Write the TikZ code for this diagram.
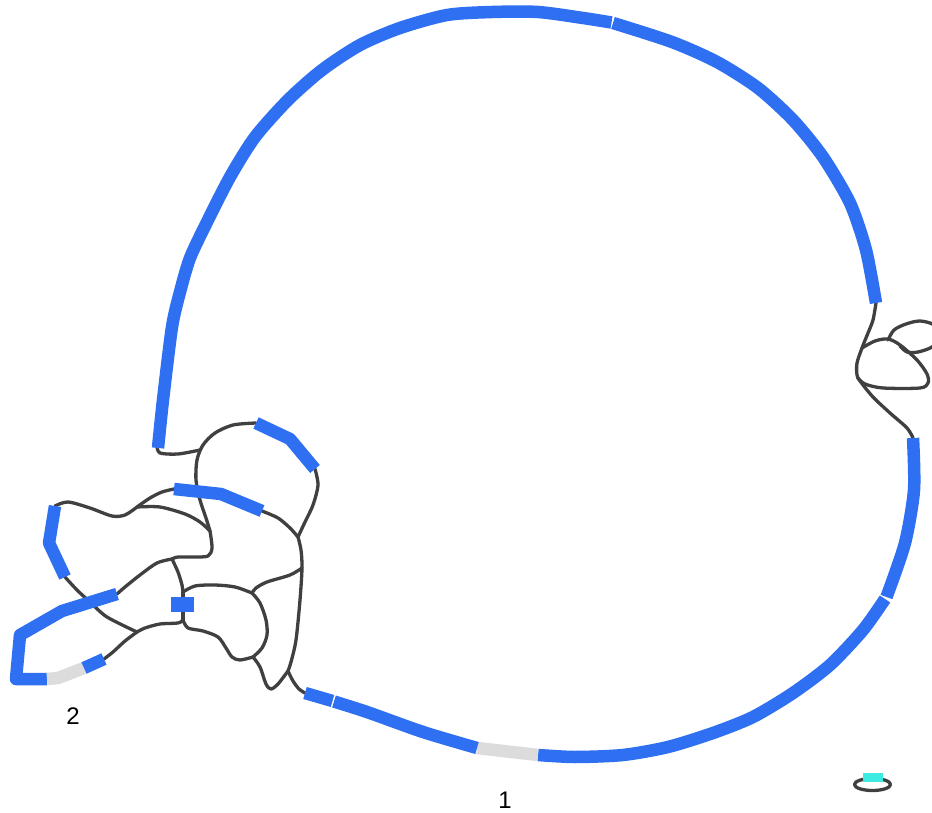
\documentclass[tikz,border=0pt]{standalone}
\usepackage{fontspec}
\setmainfont{Liberation Sans}
\definecolor{nodeblue}{RGB}{47,112,242}
\definecolor{gapgray}{RGB}{220,220,220}
\definecolor{edgegray}{RGB}{64,64,64}
\definecolor{smallcyan}{RGB}{60,235,225}
\tikzset{
  contig/.style={draw=nodeblue, line width=12.5pt, line cap=butt, line join=round},
  uncov/.style={draw=gapgray, line width=12.5pt, line cap=butt, line join=round},
  link/.style={draw=edgegray, line width=3.3pt, line cap=round, line join=round},
  lbl/.style={font=\fontsize{24}{24}\selectfont, inner sep=0pt, text=black}
}
\begin{document}
\begin{tikzpicture}[x=1pt,y=-1pt]
\clip (0,0) rectangle (932,813);
\fill[white] (0,0) rectangle (932,813);
% junctions
\coordinate (A0) at (158,448);
\coordinate (J1) at (200,450);
\coordinate (J2) at (210,531);
\coordinate (J3) at (298,537);
\coordinate (J3b) at (302,568);
\coordinate (J4) at (252,593);
\coordinate (J5) at (137,507);
\coordinate (J6) at (172,559);
\coordinate (J7) at (183,592);
\coordinate (J8) at (137,632);
\coordinate (J9) at (288,671);
\coordinate (J10) at (253,657);
\coordinate (Q) at (183,620);
\coordinate (B2s) at (256,423);
\coordinate (B2e) at (315,469);
\coordinate (B3s) at (174,489);
\coordinate (B3e) at (262,511);
\coordinate (B4s) at (55,506);
\coordinate (B4e) at (65,577);
\coordinate (B5s) at (117,594);
\coordinate (B5e) at (104,659);
\coordinate (F0) at (305,693);
\coordinate (R0) at (876,303);
\coordinate (R1) at (913,438);
% black links, left tangle
\draw[link] plot[smooth] coordinates {(157,446) (160,453) (178,454) (J1)};
\draw[link] plot[smooth] coordinates {(B2s) (233,425) (215,433) (203,445) (197,460) (196,480) (200,500) (206,518) (J2)};
\draw[link] plot[smooth] coordinates {(B2e) (318,485) (313,505) (305,522) (J3)};
\draw[link] plot[smooth] coordinates {(B3e) (278,518) (290,528) (J3)};
\draw[link] plot[smooth] coordinates {(J3) (301,550) (J3b) (300,600) (296,640) (291,662) (J9)};
\draw[link] plot[smooth] coordinates {(J3b) (290,575) (267,582) (256,588) (J4)};
\draw[link] plot[smooth] coordinates {(J4) (260,603) (266,620) (267,635) (262,648) (J10)};
\draw[link] plot[smooth] coordinates {(J10) (260,667) (266,684) (271,689) (278,684) (J9)};
\draw[link] plot[smooth] coordinates {(J9) (293,681) (299,689) (F0)};
\draw[link] plot[smooth] coordinates {(J5) (125,515) (112,516) (90,508) (68,502) (B4s)};
\draw[link] plot[smooth] coordinates {(J5) (150,498) (162,492) (B3s)};
\draw[link] plot[smooth] coordinates {(J5) (160,507) (185,514) (200,522) (J2)};
\draw[link] plot[smooth] coordinates {(J2) (212,548) (208,556) (195,557) (178,557) (J6)};
\draw[link] plot[smooth] coordinates {(J6) (157,563) (140,575) (125,587) (B5s)};
\draw[link] plot[smooth] coordinates {(J6) (178,572) (182,585) (J7)};
\draw[link] (J7) -- (Q);
\draw[link] plot[smooth] coordinates {(J7) (195,586) (215,585) (235,587) (J4)};
\draw[link] plot[smooth] coordinates {(Q) (178,623) (160,624) (145,628) (J8)};
\draw[link] plot[smooth] coordinates {(Q) (188,628) (203,631) (218,637) (226,648) (232,657) (240,660) (J10)};
\draw[link] plot[smooth] coordinates {(B4e) (77,590) (90,602) (107,617) (J8)};
\draw[link] plot[smooth] coordinates {(J8) (125,641) (113,652) (B5e)};
% black links, right knot
\draw[link] plot[smooth] coordinates {(R0) (873,320) (868,333) (862,348) (857,363) (857,375) (860,381) (873,397) (890,413) (907,428) (R1)};
\draw[link] plot[smooth] coordinates {(862,348) (875,341) (888,339) (900,345) (917,360) (927,374) (928,383) (920,388) (883,388) (865,384) (858,378)};
\draw[link] plot[smooth] coordinates {(888,340) (894,330) (906,324) (920,321) (934,325) (940,337) (932,347) (918,352) (907,352) (900,346)};
% small isolated component
\draw[link] (872.5,784.5) ellipse [x radius=18, y radius=6];
\fill[smallcyan] (863,773) rectangle (883,782);
% blue contigs, big loop
\draw[contig] plot[smooth, tension=0.45] coordinates {(A0) (163,400) (172,327) (180,292) (190,258) (207,222) (230,177) (255,137) (288,100) (322,70) (360,45) (400,28) (447,15) (492,12) (538,12) (583,18) (611.5,22.5)};
\draw[contig] plot[smooth, tension=0.45] coordinates {(613,23) (672,42) (717,62) (758,88) (793,120) (823,157) (850,203) (866,250) (R0)};
\draw[contig] plot[smooth, tension=0.45] coordinates {(R1) (914,490) (905,543) (886.5,597)};
\draw[contig] plot[smooth, tension=0.45] coordinates {(885,599) (863,630) (830,665) (793,693) (753,717) (713,733) (668,747) (623,755) (575,757) (538,755)};
\draw[uncov] (538,755) -- (477,748);
\draw[contig] plot[smooth, tension=0.45] coordinates {(477,748) (423,732) (367,712) (334,701.5)};
\draw[contig] (332.5,701) -- (F0);
% blue contigs, left tangle
\draw[contig] (B2s) -- (290,439) -- (B2e);
\draw[contig] (B3s) -- (221,494) -- (B3e);
\draw[contig] (B4s) -- (49,543) -- (B4e);
\draw[contig] (B5s) -- (62,611) -- (20,635) -- (16,679) -- (47,679);
\draw[uncov] (47,679) -- (58,678) -- (84,668);
\draw[contig] (84,668) -- (B5e);
\fill[nodeblue] (171,597) rectangle (194,612);
% labels
\node[lbl] (l2) at (73,716) {2};
\node[lbl] (l1) at (505,800) {1};
\end{tikzpicture}
\end{document}
